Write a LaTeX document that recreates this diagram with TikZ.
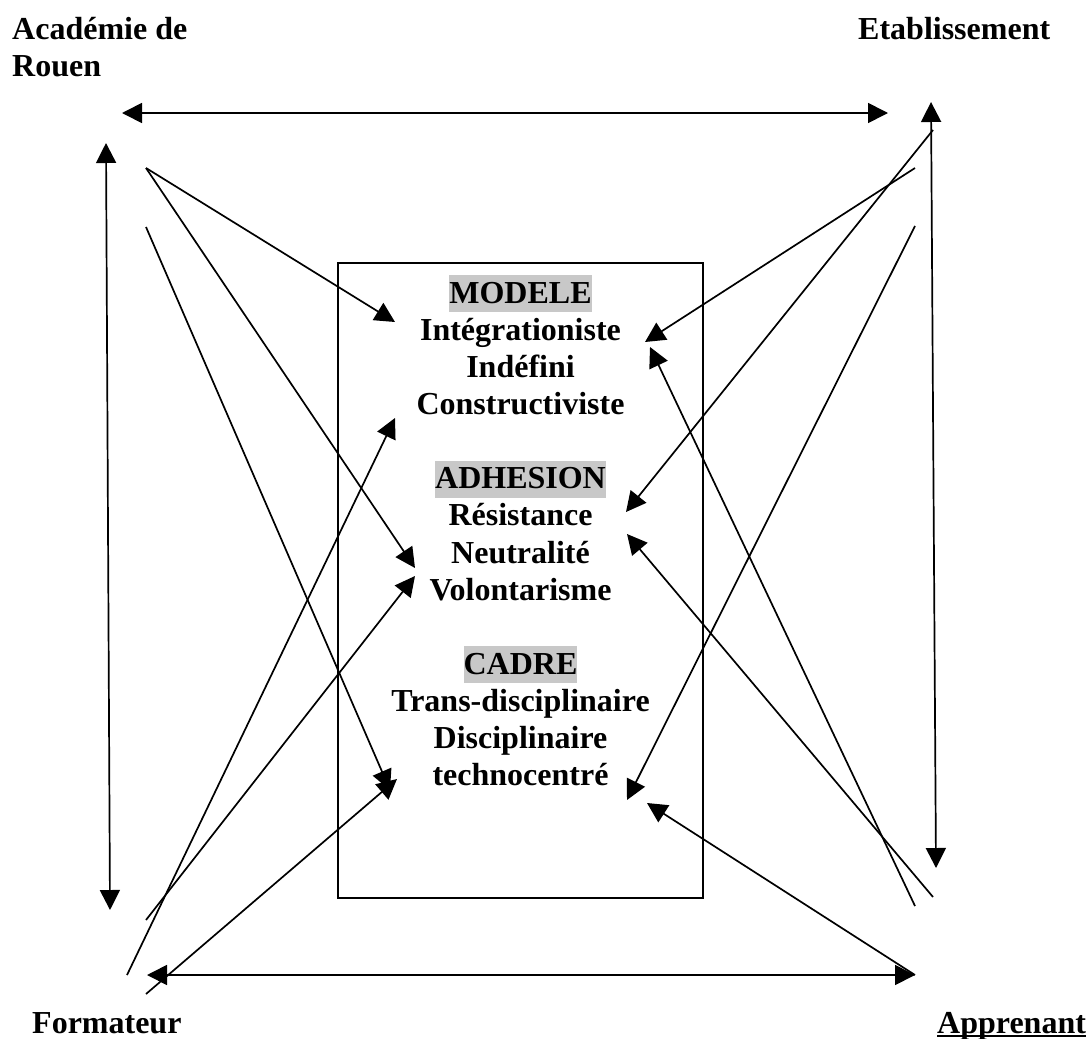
\documentclass[tikz,border=0pt]{standalone}
\usepackage{fontspec}
\setmainfont{Liberation Serif}
\usetikzlibrary{arrows.meta,positioning}
\definecolor{hlgray}{RGB}{200,200,200}
\newcommand\undertext[1]{\setbox0\hbox{#1}\rlap{\vrule width\wd0 height -2pt depth 3.6pt}\box0}

\begin{document}
\begin{tikzpicture}[x=1pt,y=-1pt,
  word/.style = {font=\fontsize{32}{37}\selectfont\bfseries, inner sep=0pt,
    text height=27.8pt, text depth=9pt},
  head/.style = {word, fill=hlgray},
  link/.style = {line width=1.7pt},
  >={Triangle[length=20pt,width=20pt]}]
  \useasboundingbox (0,0) rectangle (1090,1039);

  % corners
  \node[word, anchor=base west] (acad) at (12,39) {Académie de};
  \node[word, below=0pt of acad.south west, anchor=north west] (rouen) {Rouen};
  \node[word, anchor=base west] (etab) at (858,39) {Etablissement};
  \node[word, anchor=base west] (form) at (32,1033) {Formateur};
  \node[word, anchor=base west] (appr) at (937,1033) {\undertext{Apprenant}};

  % centre frame
  \draw[line width=1.9pt] (338,263) rectangle (703,898);
  \node[head, anchor=base] (modele) at (520.5,303) {MODELE};
  \node[word, below=0pt of modele] (integ) {Intégrationiste};
  \node[word, below=0pt of integ] (indef) {Indéfini};
  \node[word, below=0pt of indef] (constr) {Constructiviste};
  \node[head, below=36.8pt of constr] (adhesion) {ADHESION};
  \node[word, below=0pt of adhesion] (resist) {Résistance};
  \node[word, below=0pt of resist] (neutre) {Neutralité};
  \node[word, below=0pt of neutre] (volont) {Volontarisme};
  \node[head, below=36.8pt of volont] (cadre) {CADRE};
  \node[word, below=0pt of cadre] (trans) {Trans-disciplinaire};
  \node[word, below=0pt of trans] (discip) {Disciplinaire};
  \node[word, below=0pt of discip] (techno) {technocentré};

  % ends of the links
  \coordinate (top-l) at (122,113);
  \coordinate (top-r) at (888,113);
  \coordinate (left-t) at (106,143);
  \coordinate (left-b) at (110,910);
  \coordinate (right-t) at (931,102);
  \coordinate (right-b) at (936,868);
  \coordinate (bot-l) at (147,975);
  \coordinate (bot-r) at (915,975);
  \coordinate (acad1) at (146,168);
  \coordinate (acad2) at (146,227);
  \coordinate (etab1) at (933,130);
  \coordinate (etab2) at (915,168);
  \coordinate (etab3) at (915,226);
  \coordinate (form1) at (146,920);
  \coordinate (form2) at (127,975);
  \coordinate (form3) at (146,994);
  \coordinate (appr1) at (915,906);
  \coordinate (appr2) at (933,897);
  \coordinate (mod-l) at (395,322);
  \coordinate (mod-r) at (645,342);
  \coordinate (mod-r2) at (650,347);
  \coordinate (con-l) at (395,418);
  \coordinate (adh-l) at (415,568);
  \coordinate (adh-l2) at (415,576);
  \coordinate (adh-r) at (626,512);
  \coordinate (adh-r2) at (627,534);
  \coordinate (cad-l) at (390,790);
  \coordinate (cad-l2) at (397,779);
  \coordinate (cad-r) at (627,800);
  \coordinate (cad-r2) at (647,803);

  \draw[link, <->] (top-l) -- (top-r);
  \draw[link, <->] (left-t) -- (left-b);
  \draw[link, <->] (right-t) -- (right-b);
  \draw[link, <->] (bot-l) -- (bot-r);

  \draw[link, ->] (acad1) -- (mod-l);
  \draw[link, ->] (acad1) -- (adh-l);
  \draw[link, ->] (acad2) -- (cad-l);
  \draw[link, ->] (etab1) -- (adh-r);
  \draw[link, ->] (etab2) -- (mod-r);
  \draw[link, ->] (etab3) -- (cad-r);
  \draw[link, ->] (form1) -- (adh-l2);
  \draw[link, ->] (form2) -- (con-l);
  \draw[link, ->] (form3) -- (cad-l2);
  \draw[link, ->] (bot-r) -- (cad-r2);
  \draw[link, ->] (appr1) -- (mod-r2);
  \draw[link, ->] (appr2) -- (adh-r2);
\end{tikzpicture}
\end{document}
